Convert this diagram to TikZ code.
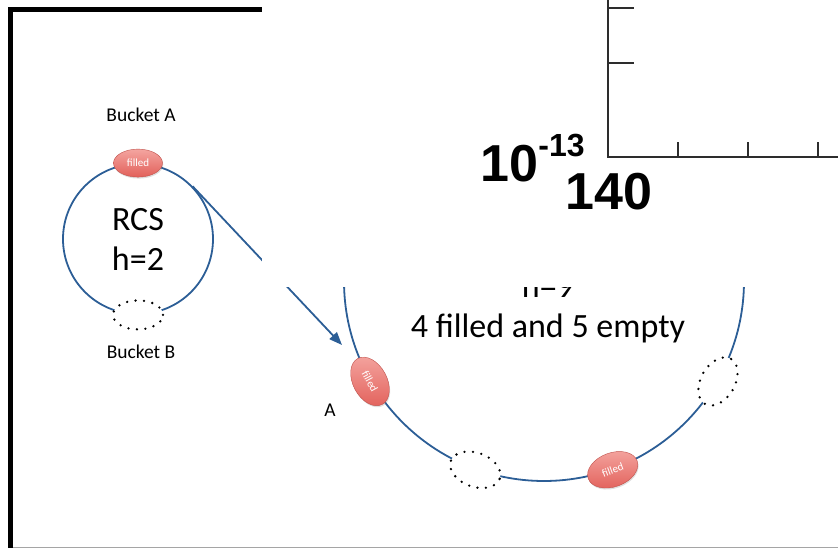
\documentclass[tikz,border=0pt]{standalone}
\usepackage{fontspec}
\setmainfont{Carlito}
\newfontfamily\plotfont{Liberation Sans}
\usetikzlibrary{arrows.meta, shapes.geometric, shadows}

\definecolor{ringblue}{RGB}{44,94,150}
\definecolor{bucketred}{RGB}{226,96,90}
\definecolor{bucketpink}{RGB}{244,165,160}
\definecolor{axisgray}{RGB}{45,45,45}
\definecolor{framegray}{RGB}{165,165,165}

\begin{document}
\begin{tikzpicture}[x=1pt, y=-1pt,
  ring/.style={circle, draw=ringblue, line width=1.8pt, inner sep=0pt},
  filledbucket/.style={ellipse, minimum width=49pt, minimum height=28pt,
              inner sep=0pt, draw=bucketred!85!black, line width=0.4pt,
              top color=bucketpink, bottom color=bucketred, text=white,
              font=\fontsize{11}{13}\selectfont,
              drop shadow={opacity=0.25, shadow xshift=0.8pt, shadow yshift=-1.5pt}},
  emptybucket/.style={ellipse, minimum width=50pt, minimum height=29pt,
              inner sep=0pt, fill=white, draw=black, line width=2.6pt,
              dash pattern=on 0pt off 8.5pt, line cap=round},
  wide/.style={minimum width=52pt, minimum height=34pt},
  lbl/.style={font=\fontsize{19.5}{22}\selectfont},
  biglbl/.style={font=\fontsize{34}{40}\selectfont, anchor=base},
  plotlbl/.style={font=\plotfont\bfseries\fontsize{52}{52}\selectfont, anchor=base west}
]
  \useasboundingbox (0,0) rectangle (838,548);

  % frame
  \fill[black] (8,7) rectangle (13,548);
  \fill[black] (8,7) rectangle (262,12);
  \draw[framegray, line width=1pt] (13,547) -- (838,547);

  % RCS ring
  \node[ring, minimum size=150pt, align=center,
        font=\fontsize{34}{40}\selectfont] (rcs) at (138,239) {RCS\\h=2};
  \node[filledbucket] (rcsA) at (rcs.90) {filled};
  \node[emptybucket] (rcsB) at (rcs.270) {};
  \node[lbl] (bucketA) at (141,115) {Bucket A};
  \node[lbl] (bucketB) at (141,352) {Bucket B};

  % big ring, h=9
  \node[ring, minimum size=400pt] (bigring) at (544,281) {};
  \node[filledbucket, wide, rotate=-62] (fill1) at (bigring.210) {filled};
  \node[emptybucket, wide, rotate=-20] (empty1) at (bigring.250) {};
  \node[filledbucket, wide, rotate=20] (fill2) at (bigring.290) {filled};
  \node[emptybucket, wide, rotate=60] (empty2) at (bigring.330) {};
  \node[biglbl] (hlbl) at (548,297) {h=9};
  \node[biglbl] (countlbl) at (548,337) {4 filled and 5 empty};
  \node[lbl] (ptA) at (330,410) {A};

  \coordinate (tip) at (342,345);
  \draw[ringblue, line width=1.8pt, -{Triangle[length=13pt,width=10pt]}]
    (rcs.44) -- (tip);

  % pasted plot corner
  \fill[white] (262,0) rectangle (838,287);
  \draw[axisgray, line width=2.5pt] (608,0) -- (608,157) -- (838,157);
  \draw[axisgray, line width=2pt] (608,8) -- (634,8) (608,63) -- (634,63);
  \draw[axisgray, line width=1.5pt] (678,157) -- (678,142)
    (748,157) -- (748,142) (818,157) -- (818,142);
  \node[plotlbl] (expo) at (477,182)
    {10\raisebox{25pt}{\fontsize{32}{32}\selectfont -13}};
  \node[plotlbl] (start) at (562,210) {140};
\end{tikzpicture}
\end{document}
